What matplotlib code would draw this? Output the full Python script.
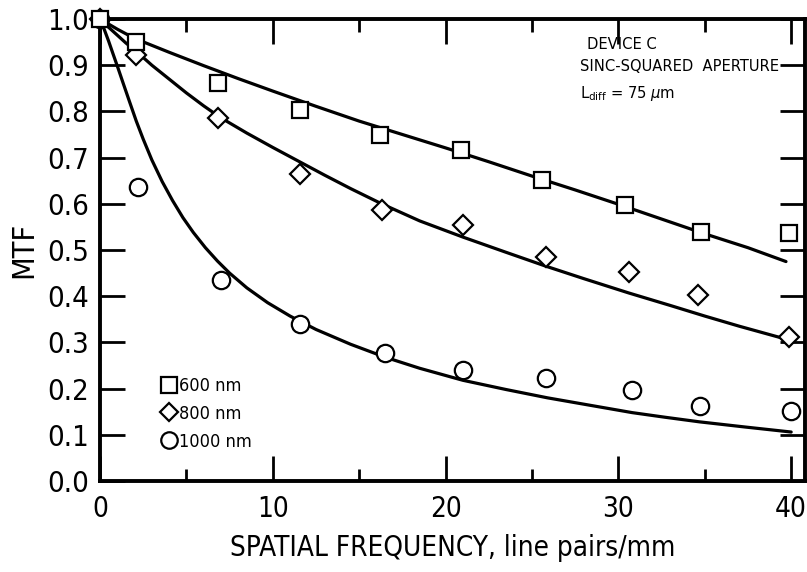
import matplotlib
matplotlib.use("Agg")
import matplotlib.pyplot as plt

# narrow sans to get the condensed lettering
plt.rcParams['font.family'] = ['DejaVu Sans']
plt.rcParams['font.stretch'] = 'condensed'
plt.rcParams['mathtext.fontset'] = 'dejavusans'

# measured points
x_600 = [0, 2.1, 6.85, 11.6, 16.2, 20.9, 25.6, 30.4, 34.8, 39.9]
y_600 = [1.0, 0.95, 0.862, 0.803, 0.749, 0.716, 0.651, 0.597, 0.539, 0.537]
x_800 = [0, 2.1, 6.85, 11.6, 16.3, 21.0, 25.8, 30.6, 34.6, 39.9]
y_800 = [1.0, 0.922, 0.786, 0.664, 0.587, 0.554, 0.485, 0.452, 0.403, 0.312]
x_1000 = [0, 2.2, 7.0, 11.6, 16.5, 21.0, 25.8, 30.8, 34.7, 40.0]
y_1000 = [1.0, 0.636, 0.435, 0.340, 0.277, 0.240, 0.223, 0.197, 0.162, 0.152]

# calculated curves (sinc-squared aperture)
cx_600 = [0, 1, 2, 4, 6, 8, 10, 12.5, 15, 17.5, 20, 22.5, 25, 27.5, 30, 32.5, 35, 37.5, 39.7]
cy_600 = [1.0, 0.978, 0.958, 0.928, 0.899, 0.871, 0.844, 0.811, 0.779, 0.75, 0.721, 0.691, 0.66, 0.63, 0.599, 0.567, 0.535, 0.505, 0.475]
cx_800 = [0, 0.5, 1, 1.5, 2.1, 3, 4, 5, 6, 7, 8.5, 10, 11.5, 13, 14.5, 16.3, 18.5, 21, 23.5, 25.8, 28, 30.6, 33, 35, 37, 39.9]
cy_800 = [1.0, 0.982, 0.965, 0.948, 0.93, 0.9, 0.87, 0.84, 0.812, 0.786, 0.753, 0.722, 0.692, 0.662, 0.633, 0.6, 0.563, 0.528, 0.495, 0.465, 0.438, 0.407, 0.38, 0.357, 0.335, 0.305]
cx_1000 = [0, 0.25, 0.5, 0.75, 1.05, 1.35, 1.7, 2.1, 2.5, 3.0, 3.6, 4.2, 4.8, 5.4, 6.1, 6.8, 7.5, 8.5, 9.7, 11.0, 12.5, 14.5, 16.5, 18.5, 21.0, 23.5, 25.9, 28.5, 30.8, 32.7, 34.7, 37.3, 40.0]
cy_1000 = [1.0, 0.977, 0.952, 0.925, 0.893, 0.86, 0.822, 0.779, 0.74, 0.695, 0.648, 0.607, 0.57, 0.538, 0.505, 0.476, 0.45, 0.418, 0.386, 0.357, 0.328, 0.296, 0.268, 0.244, 0.218, 0.198, 0.18, 0.163, 0.148, 0.138, 0.128, 0.117, 0.106]

labels = ['600 nm', '800 nm', '1000 nm']

fig = plt.figure(figsize=(8.07, 5.72), dpi=100)
ax = fig.add_axes([100 / 807, 1 - 481 / 572, 705 / 807, 462 / 572])

for cx, cy in [(cx_600, cy_600), (cx_800, cy_800), (cx_1000, cy_1000)]:
    ax.plot(cx, cy, color='black', lw=2.3, solid_capstyle='round',
            solid_joinstyle='round', zorder=2)

mk = dict(ls='none', mfc='white', mec='black', mew=1.6, zorder=3, clip_on=False)
ax.plot(x_1000, y_1000, marker='o', ms=12.5, label=labels[2], **mk)
ax.plot(x_800, y_800, marker='D', ms=10, label=labels[1], **mk)
ax.plot(x_600, y_600, marker='s', ms=12, label=labels[0], **mk)

ax.set_xlim(0, 40.8)
ax.set_ylim(0, 1.0)
ax.set_xticks([0, 10, 20, 30, 40])
ax.set_xticks([5, 15, 25, 35], minor=True)
ax.set_yticks([i / 10 for i in range(11)])
ax.set_yticklabels(['%.1f' % (i / 10) for i in range(11)])

for s in ax.spines.values():
    s.set_linewidth(2.8)
ax.tick_params(which='major', direction='in', length=18, width=2.0,
               top=True, right=True, labelsize=21, pad=8)
ax.tick_params(which='minor', direction='in', length=9, width=2.0, top=True)
ax.tick_params(axis='x', which='major', pad=10, labelsize=20)

ax.set_xlabel('SPATIAL FREQUENCY, line pairs/mm', fontsize=20, labelpad=8)
ax.set_ylabel('MTF', fontsize=22, labelpad=6)

ax.text(28.2, 0.945, 'DEVICE C', fontsize=11.8, va='center')
ax.text(27.8, 0.897, 'SINC-SQUARED  APERTURE', fontsize=11.8, va='center')
ax.text(27.8, 0.838, r'L$_{\rm diff}$ = 75 $\mu$m', fontsize=11.8, va='center')

handles, labs = ax.get_legend_handles_labels()
ax.legend(handles[::-1], labs[::-1], loc='upper left', bbox_to_anchor=(0.075, 0.245),
          frameon=False, handlelength=0.8, handletextpad=0.15, labelspacing=0.55,
          borderpad=0, fontsize=13, markerscale=0.95)

fig.savefig('out.png', dpi=100)
